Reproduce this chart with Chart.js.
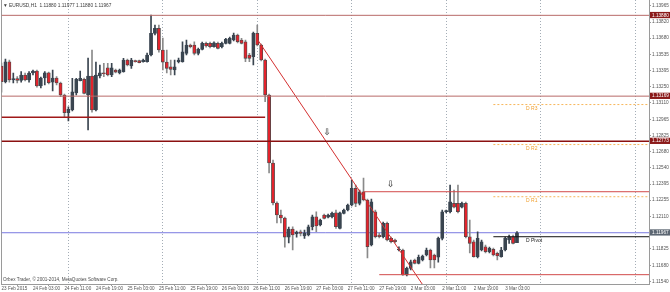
<!DOCTYPE html>
<html><head><meta charset="utf-8">
<script src="https://cdn.jsdelivr.net/npm/chart.js@4.4.1/dist/chart.umd.min.js"></script>
<style>html,body{margin:0;padding:0;background:#fff;}canvas{display:block;}</style>
</head><body>
<canvas id="c" width="670" height="292"></canvas>
<script>
const chartTitle = "\u25BC EURUSD,H1  1.11880 1.11977 1.11880 1.11967";
const copyright = "Orbex Trader, \u00A9 2001-2014, MetaQuotes Software Corp.";

const timeLabelIndex = [0,8,16,24,32,40,48,56,64,72,80,88,96,104,112,120,128];
const timeLabels = ["23 Feb 2015","24 Feb 03:00","24 Feb 11:00","24 Feb 19:00","25 Feb 03:00","25 Feb 11:00","25 Feb 19:00","26 Feb 03:00","26 Feb 11:00","26 Feb 19:00","27 Feb 03:00","27 Feb 11:00","27 Feb 19:00","2 Mar 03:00","2 Mar 11:00","2 Mar 19:00","3 Mar 03:00"];
const dayStartIndex = [5,29,53,77,101,125,149];

const opens = [1.13434,1.13296,1.13472,1.13311,1.13324,1.13307,1.13355,1.13311,1.13373,1.13390,1.13258,1.13329,1.13375,1.13293,1.13329,1.13285,1.13179,1.13023,1.13047,1.13197,1.13305,1.13317,1.13179,1.13346,1.13047,1.13346,1.13373,1.13419,1.13355,1.13399,1.13373,1.13384,1.13487,1.13434,1.13481,1.13481,1.13472,1.13472,1.13531,1.13722,1.13766,1.13575,1.13469,1.13428,1.13399,1.13472,1.13472,1.13546,1.13619,1.13619,1.13546,1.13581,1.13634,1.13634,1.13604,1.13634,1.13604,1.13634,1.13634,1.13663,1.13707,1.13663,1.13648,1.13531,1.13516,1.13722,1.13619,1.13487,1.13179,1.12581,1.12229,1.12123,1.12097,1.11929,1.12000,1.11956,1.11976,1.11938,1.11947,1.12020,1.12108,1.12035,1.12123,1.12105,1.12108,1.12143,1.12006,1.12138,1.12167,1.12211,1.12358,1.12226,1.12328,1.12255,1.11859,1.12152,1.11947,1.11932,1.12050,1.11918,1.11903,1.11815,1.11815,1.11595,1.11654,1.11727,1.11698,1.11727,1.11771,1.11815,1.11771,1.11753,1.11918,1.12152,1.12152,1.12226,1.12226,1.12193,1.12226,1.11932,1.11888,1.11756,1.11815,1.11844,1.11800,1.11821,1.11786,1.11756,1.11815,1.11903,1.11932,1.11880];
const highs = [1.13461,1.13496,1.13487,1.13373,1.13342,1.13386,1.13373,1.13386,1.13399,1.13399,1.13337,1.13386,1.13381,1.13399,1.13342,1.13293,1.13188,1.13076,1.13326,1.13326,1.13390,1.13329,1.13505,1.13575,1.13469,1.13443,1.13458,1.13458,1.13458,1.13408,1.13408,1.13502,1.13496,1.13502,1.13487,1.13487,1.13496,1.13549,1.13883,1.13795,1.13795,1.13681,1.13575,1.13487,1.13487,1.13505,1.13648,1.13663,1.13628,1.13648,1.13593,1.13645,1.13645,1.13645,1.13648,1.13645,1.13645,1.13678,1.13689,1.13725,1.13716,1.13678,1.13663,1.13546,1.13733,1.13795,1.13628,1.13496,1.13188,1.12607,1.12240,1.12167,1.12105,1.12017,1.12020,1.11982,1.11991,1.11991,1.12035,1.12123,1.12152,1.12088,1.12132,1.12132,1.12149,1.12167,1.12149,1.12176,1.12220,1.12431,1.12387,1.12343,1.12449,1.12264,1.12264,1.12167,1.11965,1.12061,1.12061,1.11929,1.11912,1.11844,1.11824,1.11665,1.11727,1.11736,1.11771,1.11771,1.11833,1.11824,1.11780,1.11929,1.12167,1.12167,1.12387,1.12343,1.12387,1.12237,1.12237,1.12079,1.11903,1.11976,1.11903,1.11859,1.11841,1.11833,1.11797,1.11839,1.11929,1.11947,1.11947,1.11977];
const lows = [1.13205,1.13285,1.13293,1.13285,1.13285,1.13293,1.13302,1.13293,1.13355,1.13249,1.13241,1.13267,1.13276,1.13214,1.13267,1.13164,1.12985,1.12950,1.13038,1.13179,1.13302,1.13188,1.12871,1.13029,1.13038,1.13329,1.13340,1.13346,1.13340,1.13373,1.13364,1.13381,1.13434,1.13414,1.13469,1.13461,1.13469,1.13469,1.13522,1.13707,1.13557,1.13399,1.13373,1.13355,1.13355,1.13461,1.13469,1.13531,1.13593,1.13531,1.13531,1.13575,1.13601,1.13593,1.13601,1.13584,1.13593,1.13628,1.13628,1.13654,1.13637,1.13628,1.13472,1.13472,1.13443,1.13610,1.13478,1.13120,1.12493,1.12211,1.12053,1.12053,1.11841,1.11877,1.11815,1.11929,1.11938,1.11918,1.11938,1.11991,1.11976,1.12026,1.12088,1.12097,1.12097,1.12006,1.12000,1.12132,1.12158,1.12202,1.12196,1.12211,1.12246,1.11745,1.11850,1.11921,1.11921,1.11921,1.11894,1.11877,1.11877,1.11806,1.11591,1.11586,1.11639,1.11692,1.11692,1.11718,1.11762,1.11657,1.11657,1.11709,1.11903,1.12141,1.12141,1.12185,1.12141,1.12185,1.11921,1.11789,1.11753,1.11745,1.11806,1.11789,1.11789,1.11762,1.11727,1.11753,1.11806,1.11874,1.11868,1.11880];
const closes = [1.13296,1.13472,1.13311,1.13324,1.13307,1.13355,1.13311,1.13373,1.13390,1.13258,1.13329,1.13375,1.13287,1.13329,1.13285,1.13179,1.13023,1.13053,1.13208,1.13317,1.13326,1.13194,1.13346,1.13047,1.13355,1.13375,1.13366,1.13355,1.13419,1.13381,1.13399,1.13487,1.13443,1.13487,1.13472,1.13463,1.13487,1.13531,1.13722,1.13766,1.13575,1.13469,1.13414,1.13405,1.13428,1.13487,1.13560,1.13619,1.13604,1.13546,1.13581,1.13634,1.13610,1.13604,1.13639,1.13590,1.13634,1.13669,1.13678,1.13707,1.13648,1.13634,1.13502,1.13502,1.13722,1.13619,1.13487,1.13179,1.12581,1.12229,1.12123,1.12097,1.11929,1.12000,1.11947,1.11973,1.11962,1.11967,1.12020,1.12108,1.12026,1.12079,1.12094,1.12123,1.12138,1.12020,1.12143,1.12167,1.12211,1.12358,1.12226,1.12328,1.12255,1.11844,1.12240,1.11932,1.11932,1.12050,1.11903,1.11888,1.11888,1.11824,1.11595,1.11654,1.11712,1.11698,1.11751,1.11762,1.11815,1.11727,1.11727,1.11918,1.12152,1.12161,1.12240,1.12191,1.12152,1.12226,1.11932,1.11874,1.11756,1.11918,1.11888,1.11800,1.11830,1.11771,1.11762,1.11815,1.11918,1.11932,1.11874,1.11967];

const priceTicks = [1.13965,1.13880,1.13820,1.13680,1.13535,1.13395,1.13250,1.13169,1.13110,1.12965,1.12825,1.12773,1.12680,1.12540,1.12395,1.12255,1.12110,1.11967,1.11825,1.11680,1.11540];
const markedRed = [1.13880,1.13169,1.12773];
const bidPrice = 1.11967;

const weekHigh = 1.13880;
const rangeLevel = 1.13169;
const oldSupport = 1.12983, oldSupportEnd = 67;
const keyLevel = 1.12773;
const upperBox = 1.12328, upperBoxStart = 92;
const lowerBox = 1.11598, lowerBoxStart = 96;
const trendIndex = [65, 108];
const trendPrice = [1.13670, 1.11460];
const pivotNames = ["D R3","D R2","D R1","D Pivot"];
const pivotLevels = [1.13095, 1.12743, 1.12284, 1.11932];
const pivotStart = 125, pivotLabelIndex = 133.3;
const arrowIndex = [82.8, 98.9];
const arrowPrice = [1.12850, 1.12392];

const X_MIN = 0, X_MAX = 164.55, Y_MIN = 1.11516, Y_MAX = 1.14015;
const FONT = '"Liberation Sans", Arial, sans-serif';

const bull = i => closes[i] >= opens[i];
const wickData = opens.map((o, i) => ({x: i, y: [lows[i], highs[i]]}));
const bodyData = opens.map((o, i) => ({x: i, y: [o, closes[i]]}));

function hLine(label, price, from, to, color, width, dash, order) {
  return {type: 'line', label, data: [{x: from, y: price}, {x: to, y: price}],
    borderColor: color, borderWidth: width, borderDash: dash || [], pointRadius: 0,
    fill: false, order: order === undefined ? 1 : order, tension: 0};
}

const datasets = [
  {type: 'bar', label: 'wicks', data: wickData, barThickness: 1, grouped: false, minBarLength: 1,
   backgroundColor: ctx => bull(ctx.dataIndex) ? '#3a4550' : '#8a8a8a', borderWidth: 0, order: 6},
  {type: 'bar', label: 'bodies', data: bodyData, barThickness: 3.2, grouped: false, minBarLength: 1,
   backgroundColor: ctx => bull(ctx.dataIndex) ? '#3a4550' : '#e3232c',
   borderColor: ctx => bull(ctx.dataIndex) ? '#3a4550' : '#4a4a4a', borderWidth: 0.8, borderSkipped: false, order: 5},
  hLine('bid', bidPrice, X_MIN, X_MAX, '#7a7ae0', 1, null, 8),
  hLine('weekHigh', weekHigh, X_MIN, X_MAX, '#b86a68', 1),
  hLine('range', rangeLevel, X_MIN, X_MAX, '#b86a68', 1),
  hLine('oldSupport', oldSupport, X_MIN, oldSupportEnd, '#a01818', 1.4),
  hLine('key', keyLevel, X_MIN, X_MAX, '#8b1010', 1.5),
  hLine('upperBox', upperBox, upperBoxStart, X_MAX, '#d24a4a', 1),
  hLine('lowerBox', lowerBox, lowerBoxStart, X_MAX, '#d24a4a', 1),
  ...pivotLevels.slice(0, 3).map((p, k) => hLine(pivotNames[k], p, pivotStart, X_MAX, '#f7b65a', 1, [2, 2])),
  hLine('pivot', pivotLevels[3], pivotStart, X_MAX, '#111111', 1),
  {type: 'line', label: 'trend', data: trendIndex.map((v, k) => ({x: v, y: trendPrice[k]})),
   borderColor: '#d43030', borderWidth: 1, pointRadius: 0, fill: false, order: 1}
];

const overlay = {
  id: 'overlay',
  afterDatasetsDraw(chart) {
    const {ctx, scales: {x, y}} = chart;
    ctx.save();
    ctx.textBaseline = 'middle'; ctx.textAlign = 'left';
    ctx.fillStyle = '#3a3a3a';
    ctx.font = '4.8px ' + FONT;
    ctx.fillText(chartTitle, 3, 6);
    ctx.fillStyle = '#4a4a4a';
    ctx.font = '4.6px ' + FONT;
    ctx.fillText(copyright, 3, 279.5);
    ctx.font = '5px ' + FONT;
    pivotLevels.forEach((p, k) => {
      ctx.fillStyle = k < 3 ? '#f0a030' : '#222222';
      ctx.fillText(pivotNames[k], x.getPixelForValue(pivotLabelIndex), y.getPixelForValue(p) + 3.6);
    });
    ctx.font = 'bold 9px "DejaVu Sans", sans-serif';
    ctx.textAlign = 'center';
    ctx.fillStyle = '#555555';
    arrowIndex.forEach((a, k) => ctx.fillText('\u21E9', x.getPixelForValue(a), y.getPixelForValue(arrowPrice[k])));
    ctx.restore();
  }
};

new Chart(document.getElementById('c'), {
  type: 'bar',
  data: {datasets},
  options: {
    responsive: false, animation: false, devicePixelRatio: 1,
    layout: {padding: {left: 1.5, top: 0, right: 0, bottom: 0}},
    plugins: {legend: {display: false}, tooltip: {enabled: false}, title: {display: false}},
    scales: {
      x: {
        type: 'linear', min: X_MIN, max: X_MAX, position: 'bottom', offset: false,
        afterBuildTicks: s => { s.ticks = timeLabelIndex.map(v => ({value: v})); },
        afterFit: s => { s.height = 8; s.paddingLeft = 0; s.paddingRight = 0; },
        grid: {display: true, drawOnChartArea: false, drawTicks: true, tickLength: 2, color: '#9a9a9a'},
        border: {display: true, color: '#9a9a9a', width: 1},
        ticks: {autoSkip: false, maxRotation: 0, minRotation: 0, align: 'start', padding: 0,
          font: {size: 4.6, family: FONT}, color: '#555555',
          callback: v => { const k = timeLabelIndex.indexOf(v); return k >= 0 ? timeLabels[k] : ''; }}
      },
      xg: {
        type: 'linear', min: X_MIN, max: X_MAX, position: 'bottom', offset: false,
        afterBuildTicks: s => { s.ticks = dayStartIndex.map(v => ({value: v})); },
        afterFit: s => { s.height = 0; s.paddingLeft = 0; s.paddingRight = 0; },
        grid: {display: true, drawOnChartArea: true, drawTicks: false, color: '#a4adb6', lineWidth: 1},
        border: {display: false, dash: [1, 2]},
        ticks: {display: false}
      },
      y: {
        type: 'linear', position: 'right', min: Y_MIN, max: Y_MAX,
        afterBuildTicks: s => { s.ticks = priceTicks.map(v => ({value: v})); },
        afterFit: s => { s.width = 21; s.paddingTop = 0; s.paddingBottom = 0; },
        grid: {display: true, drawOnChartArea: false, drawTicks: true, tickLength: 2, color: '#9a9a9a'},
        border: {display: true, color: '#9a9a9a', width: 1},
        ticks: {
          padding: 1, font: {size: 4.7, family: FONT},
          color: c => (markedRed.includes(c.tick.value) || c.tick.value === bidPrice) ? '#ffffff' : '#555555',
          showLabelBackdrop: c => markedRed.includes(c.tick.value) || c.tick.value === bidPrice,
          backdropColor: c => c.tick.value === bidPrice ? '#5c6672' : '#8b1a1a',
          backdropPadding: {left: 2, right: 4, top: 0.6, bottom: 0},
          callback: v => v.toFixed(5)
        }
      },
      yl: {
        type: 'linear', position: 'left', min: Y_MIN, max: Y_MAX,
        afterFit: s => { s.width = 0; s.paddingTop = 0; s.paddingBottom = 0; },
        grid: {display: false},
        border: {display: true, color: '#9a9a9a', width: 1},
        ticks: {display: false}
      }
    }
  },
  plugins: [overlay]
});
</script>
</body></html>
